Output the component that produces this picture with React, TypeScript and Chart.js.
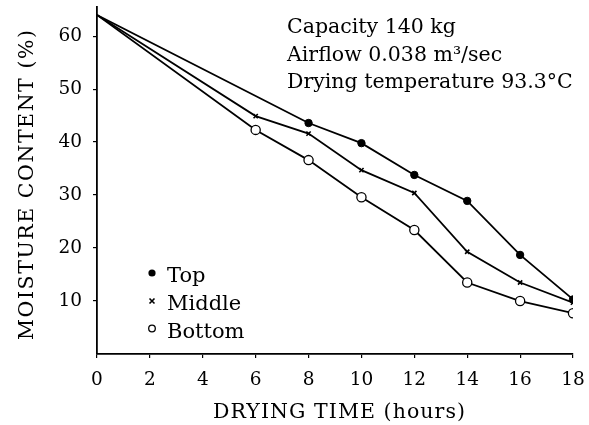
import React, { useEffect, useRef } from 'react';
import { Chart, registerables } from 'chart.js';

Chart.register(...registerables);

// ---- data ----
const topHours = [0, 8, 10, 12, 14, 16, 18];
const topValues = [64, 43.6, 39.8, 33.8, 28.9, 18.7, 10.3];
const middleHours = [0, 6, 8, 10, 12, 14, 16, 18];
const middleValues = [64, 44.9, 41.6, 34.7, 30.4, 19.3, 13.5, 9.7];
const bottomHours = [0, 6, 8, 10, 12, 14, 16, 18];
const bottomValues = [64, 42.3, 36.6, 29.6, 23.4, 13.5, 10.0, 7.7];
const xTicks = [0, 2, 4, 6, 8, 10, 12, 14, 16, 18];
const yTicks = [10, 20, 30, 40, 50, 60];
const legendLabels = ['Top', 'Middle', 'Bottom'];
const noteLines = ['Capacity 140 kg', 'Airflow 0.038 m\u00b3/sec', 'Drying temperature 93.3\u00b0C'];
const xTitle = 'DRYING TIME (hours)';
const yTitle = 'MOISTURE CONTENT (%)';

const FONT = '"DejaVu Serif", "Liberation Serif", serif';

function toPoints(xs: number[], ys: number[]) {
  return xs.map((x, i) => ({ x, y: ys[i] }));
}

function spacedText(ctx: CanvasRenderingContext2D, text: string, x: number, y: number, target: number) {
  (ctx as any).letterSpacing = '0px';
  const w = ctx.measureText(text).width;
  const s = (target - w) / (text.length - 1);
  (ctx as any).letterSpacing = `${s}px`;
  ctx.textAlign = 'left';
  ctx.fillText(text, x - target / 2, y);
  (ctx as any).letterSpacing = '0px';
}

const overlayPlugin = {
  id: 'overlay',
  afterDraw(chart: any) {
    const ctx: CanvasRenderingContext2D = chart.ctx;
    ctx.save();
    ctx.fillStyle = '#000';
    ctx.strokeStyle = '#000';
    ctx.textBaseline = 'alphabetic';
    ctx.textAlign = 'left';

    // notes
    ctx.font = `20.5px ${FONT}`;
    noteLines.forEach((t, i) => ctx.fillText(t, 287, 33 + i * 27.6));

    // legend
    ctx.font = `21px ${FONT}`;
    const baselines = [281.7, 310, 337.7];
    legendLabels.forEach((t, i) => ctx.fillText(t, 167, baselines[i]));
    const mx = 152;
    ctx.beginPath();
    ctx.arc(mx, 273, 3.6, 0, Math.PI * 2);
    ctx.fill();
    ctx.lineWidth = 1.6;
    ctx.beginPath();
    ctx.moveTo(mx - 2.5, 298.5);
    ctx.lineTo(mx + 2.5, 303.5);
    ctx.moveTo(mx + 2.5, 298.5);
    ctx.lineTo(mx - 2.5, 303.5);
    ctx.stroke();
    ctx.lineWidth = 1.3;
    ctx.beginPath();
    ctx.arc(mx, 328.5, 3.3, 0, Math.PI * 2);
    ctx.stroke();

    // axis titles
    ctx.font = `20.5px ${FONT}`;
    spacedText(ctx, xTitle, 339, 418, 252);
    ctx.save();
    ctx.translate(32.5, 185);
    ctx.rotate(-Math.PI / 2);
    spacedText(ctx, yTitle, 0, 0, 310);
    ctx.restore();

    ctx.restore();
  },
};

export default function App() {
  const ref = useRef<HTMLCanvasElement | null>(null);

  useEffect(() => {
    if (!ref.current) return;
    const radii = (n: number, r: number) => Array.from({ length: n }, (_, i) => (i === 0 ? 0 : r));
    const chart = new Chart(ref.current, {
      type: 'line',
      data: {
        datasets: [
          {
            label: 'Top',
            data: toPoints(topHours, topValues),
            borderColor: '#000',
            borderWidth: 1.8,
            pointStyle: 'circle',
            pointRadius: radii(topHours.length, 3.7),
            pointBackgroundColor: '#000',
            pointBorderColor: '#000',
            pointBorderWidth: 1,
            tension: 0,
          },
          {
            label: 'Middle',
            data: toPoints(middleHours, middleValues),
            borderColor: '#000',
            borderWidth: 1.8,
            pointStyle: 'crossRot',
            pointRadius: radii(middleHours.length, 3),
            pointBackgroundColor: '#000',
            pointBorderColor: '#000',
            pointBorderWidth: 1.6,
            tension: 0,
          },
          {
            label: 'Bottom',
            data: toPoints(bottomHours, bottomValues),
            borderColor: '#000',
            borderWidth: 1.8,
            pointStyle: 'circle',
            pointRadius: radii(bottomHours.length, 4.6),
            pointBackgroundColor: '#fff',
            pointBorderColor: '#000',
            pointBorderWidth: 1.3,
            tension: 0,
          },
        ],
      },
      options: {
        responsive: false,
        animation: false,
        devicePixelRatio: 1,
        layout: { padding: { top: 7, right: 16, left: 0, bottom: 0 } },
        plugins: {
          legend: { display: false },
          tooltip: { enabled: false },
        },
        scales: {
          x: {
            type: 'linear',
            min: 0,
            max: 18,
            afterBuildTicks: (axis: any) => {
              axis.ticks = xTicks.map((v) => ({ value: v }));
            },
            afterFit: (scale: any) => {
              scale.height = 71;
              scale.paddingLeft = 0;
              scale.paddingRight = 0;
            },
            grid: { drawOnChartArea: false, drawTicks: true, tickLength: 4, color: '#000', lineWidth: 1.2 },
            border: { display: true, color: '#000', width: 1.8 },
            ticks: {
              color: '#000',
              font: { family: FONT, size: 18.5 },
              padding: 11,
              maxRotation: 0,
              autoSkip: false,
            },
          },
          y: {
            type: 'linear',
            min: 0,
            max: 65.5,
            afterBuildTicks: (axis: any) => {
              axis.ticks = yTicks.map((v) => ({ value: v }));
            },
            afterFit: (scale: any) => {
              scale.width = 97;
              scale.paddingTop = 0;
              scale.paddingBottom = 0;
            },
            grid: { drawOnChartArea: false, drawTicks: true, tickLength: 4, color: '#000', lineWidth: 1.2 },
            border: { display: true, color: '#000', width: 1.8 },
            ticks: {
              color: '#000',
              font: { family: FONT, size: 18.5 },
              padding: 11,
              autoSkip: false,
            },
          },
        },
      },
      plugins: [overlayPlugin],
    } as any);
    return () => chart.destroy();
  }, []);

  return (
    <div style={{ position: 'fixed', left: 0, top: 0, width: 589, height: 425, background: '#fff' }}>
      <canvas ref={ref} width={589} height={425} style={{ display: 'block', width: 589, height: 425 }} />
    </div>
  );
}
